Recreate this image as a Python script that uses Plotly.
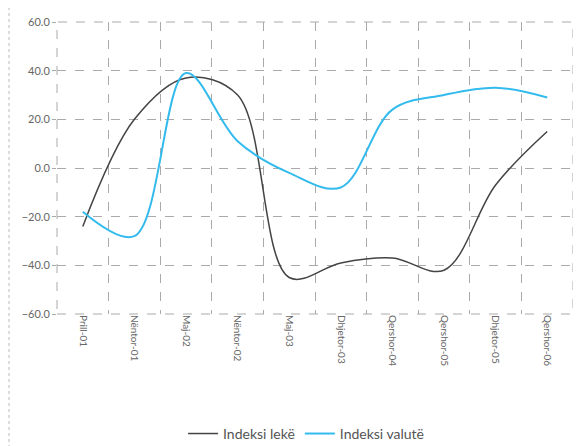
import plotly.graph_objects as go

categories = ["Prill-01", "Nëntor-01", "Maj-02", "Nëntor-02", "Maj-03",
              "Dhjetor-03", "Qershor-04", "Qershor-05", "Dhjetor-05", "Qershor-06"]
indeksi_leke = [-24, 20, 37, 30, -45, -39, -37, -42, -7, 15]
indeksi_valute = [-18, -28, 39, 11, -2, -8, 24, 30, 33, 29]
y_ticks = [-60, -40, -20, 0, 20, 40, 60]

font_family = "Lato, DejaVu Sans, sans-serif"

L, R, T, B = 49, 16, 14, 140
PW, PH = 581 - L - R, 446 - T - B

fig = go.Figure()
fig.add_trace(go.Scatter(
    x=categories, y=indeksi_leke, name="Indeksi lekë", mode="lines",
    line=dict(color="#444444", width=1.5, shape="spline", smoothing=1.0),
))
fig.add_trace(go.Scatter(
    x=categories, y=indeksi_valute, name="Indeksi valutë", mode="lines",
    line=dict(color="#33bbee", width=2, shape="spline", smoothing=1.0),
))

fig.update_layout(
    width=581, height=446,
    margin=dict(l=L, r=R, t=T, b=B, autoexpand=False),
    paper_bgcolor="white", plot_bgcolor="white",
    font=dict(family=font_family, color="#555555", size=11),
    showlegend=True,
    legend=dict(orientation="h", xref="container", yref="container",
                x=0.513, xanchor="center", y=0.045, yanchor="middle",
                font=dict(size=14, color="#555555"), itemwidth=30,
                bgcolor="rgba(0,0,0,0)"),
    xaxis=dict(type="category", range=[-0.5, 9.5], tickson="boundaries",
               showgrid=True, gridcolor="#aaaaaa", griddash="dash", gridwidth=1,
               tickangle=90, ticks="", showline=False, zeroline=False,
               automargin=False,
               tickfont=dict(size=10, color="#666666")),
    yaxis=dict(range=[-60, 60], tickvals=y_ticks, tickformat=".1f",
               showgrid=True, gridcolor="#aaaaaa", griddash="dash", gridwidth=1,
               zeroline=False, showline=False, ticks="outside", ticklen=4,
               automargin=False,
               tickcolor="#aaaaaa", tickfont=dict(size=11, color="#666666")),
    shapes=[
        dict(type="rect", xref="paper", yref="paper", x0=0, x1=1, y0=0, y1=1,
             line=dict(color="#aaaaaa", width=1, dash="dash"), layer="below"),
        dict(type="line", xref="paper", yref="paper",
             x0=(1 - L) / PW, x1=(1 - L) / PW, y0=-B / PH, y1=1 + T / PH,
             line=dict(color="#bbbbbb", width=1, dash="dot")),
    ],
)

fig.write_html("out.html")
